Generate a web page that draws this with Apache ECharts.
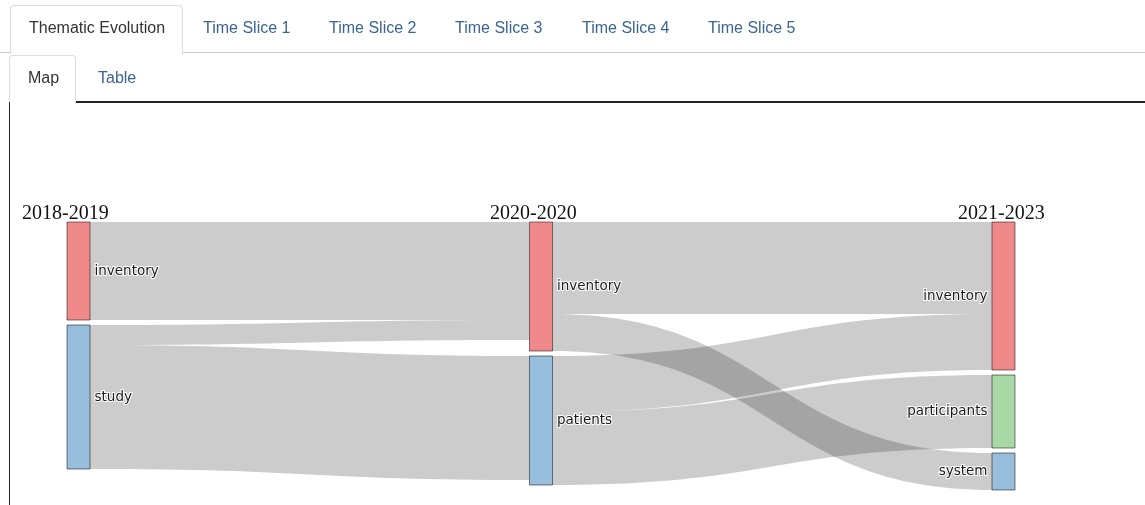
<!DOCTYPE html>
<html>
<head>
<meta charset="utf-8">
<script src="https://cdn.jsdelivr.net/npm/echarts@6/dist/echarts.min.js"></script>
<style>
body { margin: 0; background: #fff; }
#page { position: relative; width: 1145px; height: 505px; overflow: hidden; font-family: "Liberation Sans", Arial, sans-serif; }
#main { position: absolute; left: 0; top: 0; width: 1145px; height: 505px; }
.line { position: absolute; }
.tab { position: absolute; font-size: 16px; color: #3a6591; white-space: nowrap; }
.tab.active { color: #333; }
.box { position: absolute; border: 1px solid #ddd; border-bottom: none; border-radius: 4px 4px 0 0; background: #fff; }
</style>
</head>
<body>
<div id="page">
  <div id="main"></div>
  <!-- onglets du haut -->
  <div class="line" style="left:0;right:0;top:52px;height:1px;background:#ccc"></div>
  <div class="box" style="left:10px;top:5px;width:171px;height:48px"></div>
  <div class="tab active" style="left:29px;top:19px">Thematic Evolution</div>
  <div class="tab" style="left:203px;top:19px">Time Slice 1</div>
  <div class="tab" style="left:329px;top:19px">Time Slice 2</div>
  <div class="tab" style="left:455px;top:19px">Time Slice 3</div>
  <div class="tab" style="left:582px;top:19px">Time Slice 4</div>
  <div class="tab" style="left:708px;top:19px">Time Slice 5</div>
  <!-- onglets Map / Table -->
  <div class="line" style="left:75px;right:0;top:101px;height:2px;background:#222"></div>
  <div class="box" style="left:9px;top:55px;width:65px;height:48px"></div>
  <div class="tab active" style="left:28px;top:69px">Map</div>
  <div class="tab" style="left:98px;top:69px">Table</div>
  <div class="line" style="left:9px;top:102px;width:1px;bottom:0;background:#222"></div>
</div>
<script>
// périodes et thèmes (un thème par noeud)
var periods = ['2018-2019', '2020-2020', '2021-2023'];
var themes = [
    ['inventory', 'study'],
    ['inventory', 'patients'],
    ['inventory', 'participants', 'system']
];
var themeColors = {
    inventory: '#f08a8a',
    study: '#98bedd',
    patients: '#98bedd',
    participants: '#a7d8a6',
    system: '#98bedd'
};

// flux entre thèmes d'une période à la suivante
var linkSource = ['inventory|2018-2019', 'study|2018-2019', 'study|2018-2019',
    'inventory|2020-2020', 'inventory|2020-2020', 'patients|2020-2020', 'patients|2020-2020'];
var linkTarget = ['inventory|2020-2020', 'inventory|2020-2020', 'patients|2020-2020',
    'inventory|2021-2023', 'system|2021-2023', 'inventory|2021-2023', 'participants|2021-2023'];
var linkValue = [98, 20, 124, 92, 37, 56, 73];

var nodes = [];
themes.forEach(function (list, col) {
    list.forEach(function (t) {
        nodes.push({
            name: t + '|' + periods[col],
            itemStyle: { color: themeColors[t] },
            label: { position: col === periods.length - 1 ? 'left' : 'right' }
        });
    });
});

var links = linkValue.map(function (v, i) {
    return { source: linkSource[i], target: linkTarget[i], value: v };
});

// titres des colonnes
var titleLeft = [22, 490, 958];
var titles = periods.map(function (p, i) {
    return {
        text: p,
        left: titleLeft[i],
        top: 204,
        padding: 0,
        textStyle: { fontFamily: 'Liberation Serif', fontSize: 20, fontWeight: 'normal', color: '#111' }
    };
});

var myChart = echarts.init(document.getElementById('main'));
myChart.setOption({
    animation: false,
    title: titles,
    series: [{
        type: 'sankey',
        left: 67,
        right: 130,
        top: 222,
        bottom: 15,
        nodeWidth: 23,
        nodeGap: 5,
        layoutIterations: 0,
        draggable: false,
        emphasis: { disabled: true },
        itemStyle: { borderColor: 'rgba(0,0,0,0.5)', borderWidth: 1 },
        lineStyle: { color: '#000', opacity: 0.2, curveness: 0.5 },
        label: {
            fontFamily: 'DejaVu Sans',
            fontSize: 13.5,
            color: '#1a1a1a',
            distance: 4,
            textBorderColor: '#fff',
            textBorderWidth: 2,
            formatter: function (p) { return p.name.split('|')[0]; }
        },
        data: nodes,
        links: links
    }]
});
</script>
</body>
</html>
